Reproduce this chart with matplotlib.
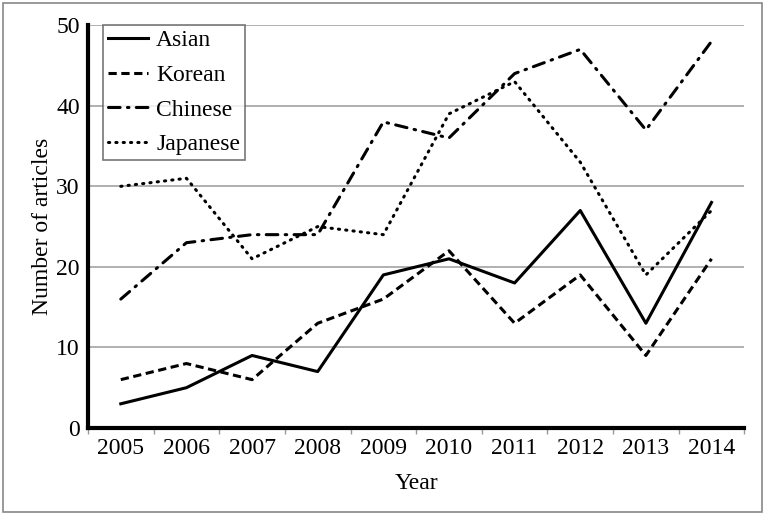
import matplotlib
matplotlib.use("Agg")
import matplotlib.pyplot as plt
from matplotlib.patches import Rectangle

# values
years = ["2005", "2006", "2007", "2008", "2009", "2010", "2011", "2012", "2013", "2014"]
asian = [3, 5, 9, 7, 19, 21, 18, 27, 13, 28]
korean = [6, 8, 6, 13, 16, 22, 13, 19, 9, 21]
chinese = [16, 23, 24, 24, 38, 36, 44, 47, 37, 48]
japanese = [30, 31, 21, 25, 24, 39, 43, 33, 19, 27]

plt.rcParams["font.family"] = ["Liberation Serif", "DejaVu Serif"]
fs = 17

fig = plt.figure(figsize=(7.65, 5.15), dpi=100)
ax = fig.add_axes([0.115, 0.169, 0.858, 0.782])

x = list(range(len(years)))
lw = 2.2
ax.plot(x, asian, color="black", lw=lw, label="Asian")
ax.plot(x, korean, color="black", lw=lw, linestyle=(0, (2.7, 1.5)), label="Korean")
ax.plot(x, chinese, color="black", lw=lw, linestyle=(0, (3.8, 2.4, 0.5, 2.4)),
        dash_capstyle="round", label="Chinese")
ax.plot(x, japanese, color="black", lw=lw, linestyle=(0, (0.4, 2.0)),
        dash_capstyle="round", label="Japanese")

ax.set_xlim(-0.5, len(years) - 0.5)
ax.set_ylim(0, 50)
ax.set_yticks(range(0, 51, 10))
ax.set_xticks(x)
ax.set_xticklabels(years)
ax.set_xticks([i + 0.5 for i in range(-1, len(years))], minor=True)
ax.tick_params(axis="x", which="major", length=0, labelsize=fs, pad=7)
ax.tick_params(axis="x", which="minor", length=4, width=1, color="#999999")
ax.tick_params(axis="y", length=0, labelsize=fs, pad=6)

ax.yaxis.grid(True, color="#aaaaaa", lw=1.3)
ax.set_axisbelow(True)
for s in ["top", "right"]:
    ax.spines[s].set_visible(False)
ax.spines["left"].set_linewidth(3)
ax.spines["bottom"].set_linewidth(3)

ax.set_xlabel("Year", fontsize=fs, labelpad=10)
ax.set_ylabel("Number of articles", fontsize=fs, labelpad=2)

leg = ax.legend(loc="upper left", bbox_to_anchor=(0.023, 1.0), borderaxespad=0,
                fontsize=fs, frameon=True, fancybox=False, handlelength=1.7,
                borderpad=0.2, labelspacing=0.55, handletextpad=0.35)
leg.get_frame().set_edgecolor("#555555")
leg.get_frame().set_linewidth(1.2)

fig.patches.append(Rectangle((0.004, 0.006), 0.992, 0.988, transform=fig.transFigure,
                             fill=False, edgecolor="#888888", lw=1.2))

fig.savefig("out.png", dpi=100)
